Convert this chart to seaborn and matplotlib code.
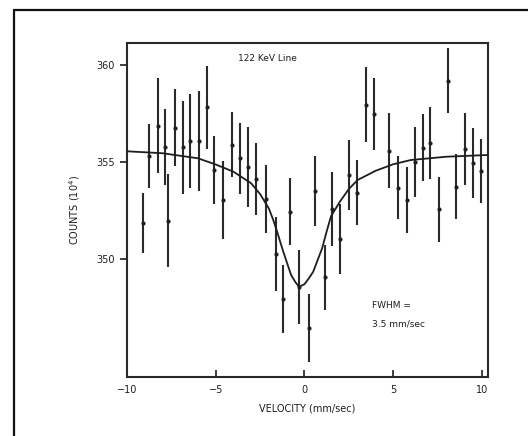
import matplotlib
matplotlib.use("Agg")
from matplotlib import pyplot as plt
from matplotlib.lines import Line2D
import seaborn as sns
import pandas as pd

# measured points: velocity (mm/sec), counts (10^4), error bar half length
velocity = [-9.08, -8.74, -8.23, -7.84, -7.67, -7.27, -6.85, -6.42, -5.95, -5.50,
            -5.07, -4.56, -4.10, -3.65, -3.18, -2.71, -2.19, -1.62, -1.20, -0.79,
            -0.30, 0.24, 0.62, 1.15, 1.53, 2.03, 2.50, 2.98, 3.45, 3.94,
            4.78, 5.29, 5.80, 6.23, 6.67, 7.08, 7.61, 8.12, 8.55, 9.06,
            9.53, 9.96]
counts = [351.87, 355.31, 356.86, 355.79, 351.97, 356.77, 355.76, 356.08, 356.08, 357.82,
          354.59, 353.04, 355.88, 355.19, 354.76, 354.11, 353.09, 350.24, 347.94, 352.44,
          348.57, 346.45, 353.50, 349.06, 352.56, 351.03, 354.33, 353.42, 357.94, 357.47,
          355.57, 353.68, 353.04, 355.02, 355.74, 355.96, 352.56, 359.18, 353.73, 355.65,
          354.93, 354.54]
errors = [1.55, 1.65, 2.45, 1.96, 2.40, 2.00, 2.40, 2.40, 2.60, 2.15,
          1.76, 2.00, 1.68, 1.83, 2.06, 1.85, 1.76, 1.90, 1.76, 1.72,
          1.90, 1.75, 1.80, 1.68, 1.90, 1.80, 1.80, 1.68, 1.93, 1.85,
          1.93, 1.63, 1.68, 1.80, 1.72, 1.85, 1.68, 1.68, 1.68, 1.85,
          1.80, 1.63]

# fitted line
fit_velocity = [-10, -8, -6, -5, -4, -3, -2.5, -2, -1.75, -1.5, -1.25, -1, -0.75, -0.5,
                -0.3, 0, 0.25, 0.5, 0.75, 1, 1.25, 1.5, 2, 2.5, 3, 4, 5, 6, 8, 10.35]
fit_counts = [355.55, 355.45, 355.19, 354.87, 354.5, 353.9, 353.35, 352.6, 352.0, 351.3,
              350.55, 349.86, 349.18, 348.8, 348.57, 348.7, 349.0, 349.35, 349.95, 350.55,
              351.4, 352.2, 352.95, 353.6, 354.07, 354.54, 354.88, 355.1, 355.27, 355.36]

x_ticks = [-10, -5, 0, 5, 10]
y_ticks = [350, 355, 360]

sns.set_style("ticks")
plt.rcParams['font.family'] = ['DejaVu Sans']

ink = '#1e1e1e'
df = pd.DataFrame({'v': velocity, 'c': counts, 'e': errors})
fit = pd.DataFrame({'v': fit_velocity, 'c': fit_counts})

fig = plt.figure(figsize=(5.28, 4.36), dpi=100)
ax = fig.add_axes([0.2405, 0.1353, 0.6837, 0.7661])

ax.errorbar(df['v'], df['c'], yerr=df['e'], fmt='none', ecolor='#2a2a2a',
            elinewidth=1.5, capsize=0)
sns.scatterplot(data=df, x='v', y='c', ax=ax, s=9, color=ink, edgecolor=ink,
                linewidth=0, zorder=3)
sns.lineplot(data=fit, x='v', y='c', ax=ax, color=ink, linewidth=1.3, zorder=4)

ax.set_xlim(-10, 10.35)
ax.set_ylim(343.92, 361.13)
ax.set_xticks(x_ticks)
ax.set_xticklabels(['\u221210', '\u22125', '0', '5', '10'])
ax.set_yticks(y_ticks)
ax.tick_params(axis='x', direction='in', length=5, width=1.2, colors=ink,
               labelsize=7, pad=6)
ax.tick_params(axis='y', direction='out', length=5, width=1.2, colors=ink,
               labelsize=7, pad=4)
for s in ax.spines.values():
    s.set_linewidth(1.5)
    s.set_color('#2a2a2a')

ax.set_xlabel('VELOCITY (mm/sec)', fontsize=7, color=ink, labelpad=6)
ax.set_ylabel('COUNTS (10$^4$)', fontsize=7, color=ink, labelpad=10)

ax.text(0.39, 0.955, '122 KeV Line', transform=ax.transAxes, ha='center',
        va='center', fontsize=6.5, color=ink)
ax.text(0.68, 0.215, 'FWHM =', transform=ax.transAxes, ha='left',
        va='center', fontsize=6.5, color=ink)
ax.text(0.68, 0.16, '3.5 mm/sec', transform=ax.transAxes, ha='left',
        va='center', fontsize=6.5, color=ink)

# outer frame of the scanned page
fig.add_artist(Line2D([0.0265, 1.0], [0.977, 0.977], color='#111111', linewidth=1.6))
fig.add_artist(Line2D([0.0265, 0.0265], [0.0, 0.977], color='#111111', linewidth=1.6))

fig.savefig('out.png', dpi=100, facecolor='white')
